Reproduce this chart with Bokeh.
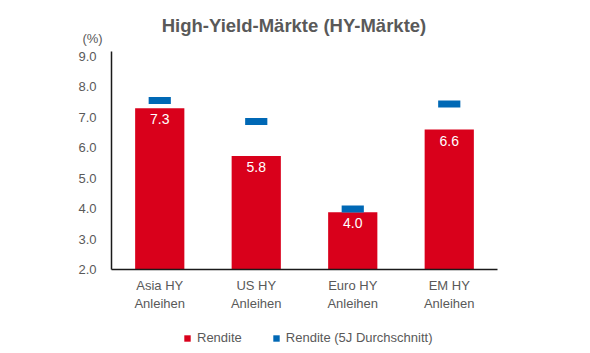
from bokeh.plotting import figure
from bokeh.models import (FactorRange, Range1d, FixedTicker, Label, Legend, LegendItem,
                          ColumnDataSource, LabelSet, NumeralTickFormatter)
from bokeh.core.properties import value
from bokeh.embed import file_html
from bokeh.resources import INLINE

categories = ["Asia HY\nAnleihen", "US HY\nAnleihen", "Euro HY\nAnleihen", "EM HY\nAnleihen"]
rendite = [7.3, 5.73, 3.88, 6.6]
rendite_labels = ["7.3", "5.8", "4.0", "6.6"]
rendite_5j = [7.55, 6.86, 3.99, 7.44]
y_ticks = [2, 3, 4, 5, 6, 7, 8, 9]

RED = "#d9001b"
BLUE = "#0068b5"
GRAY = "#595959"
FONT = "Liberation Sans"

src = ColumnDataSource(dict(cat=categories, val=rendite, lab=rendite_labels, avg=rendite_5j))

# the frame fills the page height; axes are pinned inside it so that all texts sit in the frame
p = figure(width=590, height=353,
           x_range=FactorRange(factors=categories, range_padding=0.4145,
                               range_padding_units="absolute"),
           y_range=Range1d(-0.76, 10.84), output_backend="svg", toolbar_location=None,
           min_border_left=71, min_border_right=53, min_border_top=0, min_border_bottom=0)
p.outline_line_color = None
p.xgrid.grid_line_color = None
p.ygrid.grid_line_color = None

bars = p.vbar(x="cat", top="val", bottom=2, width=0.51, source=src, color=RED, line_color=None)
marks = p.rect(x="cat", y="avg", width=0.23, height=7, height_units="screen", source=src,
               fill_color=BLUE, line_color=None)

labels = LabelSet(x="cat", y="val", text="lab", source=src, y_offset=-6, text_baseline="top",
                  text_align="center", text_color="white", text_font_size="14px",
                  text_font=value(FONT))
p.add_layout(labels)

p.yaxis.ticker = FixedTicker(ticks=y_ticks)
p.yaxis.formatter = NumeralTickFormatter(format="0.0")
p.yaxis.bounds = (2, 9.15)
p.yaxis.fixed_location = 0
p.xaxis.fixed_location = 2
p.xaxis.bounds = (0, 4)
for ax in (p.xaxis, p.yaxis):
    ax.major_tick_line_color = None
    ax.minor_tick_line_color = None
    ax.axis_line_color = "#1a1a1a"
    ax.axis_line_width = 1.5
    ax.major_label_text_color = GRAY
    ax.major_label_text_font_size = "13px"
    ax.major_label_text_font = FONT
p.yaxis.major_label_standoff = 9
p.xaxis.major_label_standoff = 2

title = Label(x=222.5, y=328.5, x_units="screen", y_units="screen",
              text="High-Yield-Märkte (HY-Märkte)", text_align="center", text_baseline="middle",
              text_font_size="18.5px", text_font_style="bold", text_color=GRAY, text_font=FONT)
p.add_layout(title)
unit = Label(x=21, y=315.5, x_units="screen", y_units="screen", text="(%)",
             text_align="center", text_baseline="middle", text_font_size="13px",
             text_color=GRAY, text_font=FONT)
p.add_layout(unit)

legend = Legend(items=[LegendItem(label="Rendite", renderers=[bars]),
                       LegendItem(label="Rendite (5J Durchschnitt)", renderers=[marks])],
                orientation="horizontal", location=(112, 8), glyph_width=8, glyph_height=8,
                label_text_font_size="13px", label_text_color=GRAY, label_text_font=FONT,
                spacing=30, border_line_color=None, background_fill_alpha=0,
                padding=2, margin=0, label_standoff=6, label_height=14)
p.add_layout(legend)

open("out.html", "w").write(file_html(p, INLINE))
